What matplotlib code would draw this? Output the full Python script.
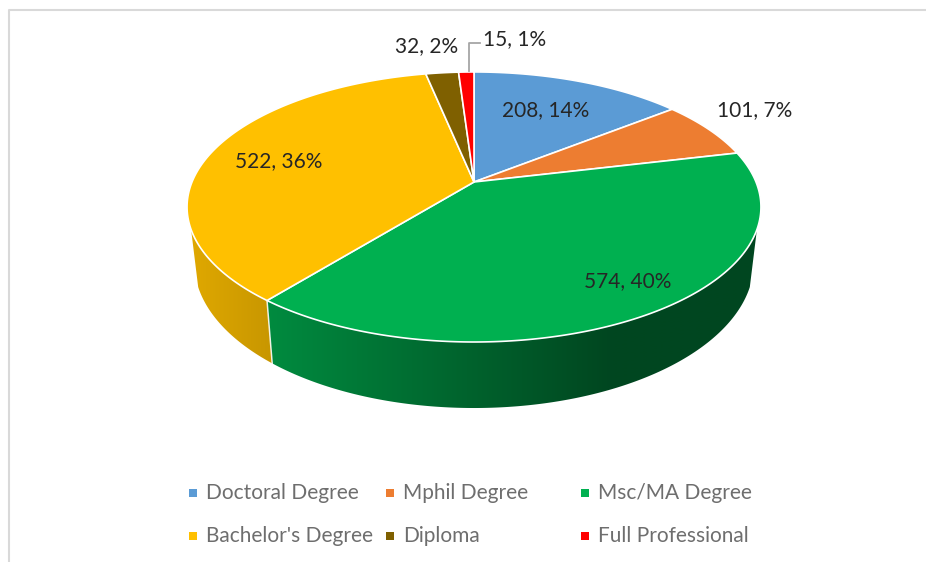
import numpy as np
import matplotlib
matplotlib.use("Agg")
import matplotlib.pyplot as plt
from matplotlib.patches import Polygon

categories = ["Doctoral Degree", "Mphil Degree", "Msc/MA Degree",
              "Bachelor's Degree", "Diploma", "Full Professional"]
values = [208, 101, 574, 522, 32, 15]
colors = ["#5B9BD5", "#ED7D31", "#00B050", "#FFC000", "#7F6000", "#FF0000"]

plt.rcParams['font.family'] = ['Lato', 'DejaVu Sans']
fig = plt.figure(figsize=(9.26, 5.62), dpi=100)
ax = fig.add_axes([0, 0, 1, 1])
ax.axis('off')

# perspective projection of the unit-circle pie
CX, CY, A, B, K, D0 = 474.0, 182.0, 282.0, 130.4, 0.185, 53.8
INSET = 0.975


def top_xy(theta):
    u, v = np.sin(theta), np.cos(theta)
    w = 1 + K * v
    return CX + A * u / w, CY - B * v / w


def bottom_xy(theta):
    x, y = top_xy(theta)
    return CX + (x - CX) * INSET, y + D0 / (1 + K * np.cos(theta))


def shade(x):
    return np.clip(0.88 - (x - 187) * 0.48 / 423, 0.40, 0.90)


vals = np.array(values, float)
total = vals.sum()
edges = np.concatenate([[0], np.cumsum(vals)]) / total * 2 * np.pi

# side wall (front part only): a horizontal gradient clipped to each slice's wall
vis0, vis1 = np.radians(110), np.radians(250)
gx = np.linspace(180, 770, 591)
for i, col in enumerate(colors):
    a0, a1 = max(edges[i], vis0), min(edges[i + 1], vis1)
    if a1 <= a0:
        continue
    t = np.linspace(a0, a1, 300)
    xt, yt = top_xy(t)
    xb, yb = bottom_xy(t)
    poly = Polygon(np.c_[np.r_[xt, xb[::-1]], np.r_[yt, yb[::-1]]], closed=True,
                   facecolor='none', edgecolor='none', transform=ax.transData)
    ax.add_patch(poly)
    base = np.array(matplotlib.colors.to_rgb(col))
    grad = (base[None, :] * shade(gx)[:, None])[None, :, :]
    im = ax.imshow(grad, extent=(180, 770, 430, 180), aspect='auto',
                   interpolation='bilinear', zorder=1)
    im.set_clip_path(poly)

# white divider on the wall
for e in edges[1:-1]:
    if vis0 < e < vis1:
        x0, y0 = top_xy(e)
        x1, y1 = bottom_xy(e)
        ax.plot([x0, x1], [y0, y1], color='white', lw=1.1, zorder=2, alpha=0.85)

# top face
for i, col in enumerate(colors):
    t = np.linspace(edges[i], edges[i + 1], 200)
    x, y = top_xy(t)
    ax.fill(np.r_[CX, x], np.r_[CY, y], facecolor=col, edgecolor='white', lw=1.2,
            joinstyle='round', zorder=3)

# data labels
label_pos = [(546, 110), (755, 110), (628, 281), (279, 161), (427, 46), (515, 39)]
for v, (lx, ly) in zip(values, label_pos):
    ax.text(lx, ly, f"{v}, {round(100 * v / total)}%", ha='center', va='center',
            fontsize=15, color='#262626', zorder=5)

# leader line for the smallest slice
ax.plot([468.5, 468.5, 480], [71, 43, 43], color='#A6A6A6', lw=1.3, zorder=4)

# chart frame
ax.plot([8.5, 8.5, 926], [562, 10, 10], color='#D9D9D9', lw=1.5, zorder=0)

# legend
leg_x = [193, 390, 585]
leg_y = [493, 536]
for i, (name, col) in enumerate(zip(categories, colors)):
    r, c = divmod(i, 3)
    ax.plot([leg_x[c]], [leg_y[r]], marker='s', ms=6, color=col, mew=0, zorder=5)
    ax.text(leg_x[c] + 13, leg_y[r], name, ha='left', va='center', fontsize=15,
            color='#6E6E6E', zorder=5)

ax.set_xlim(0, 926)
ax.set_ylim(562, 0)
fig.savefig("out.png", dpi=100)
